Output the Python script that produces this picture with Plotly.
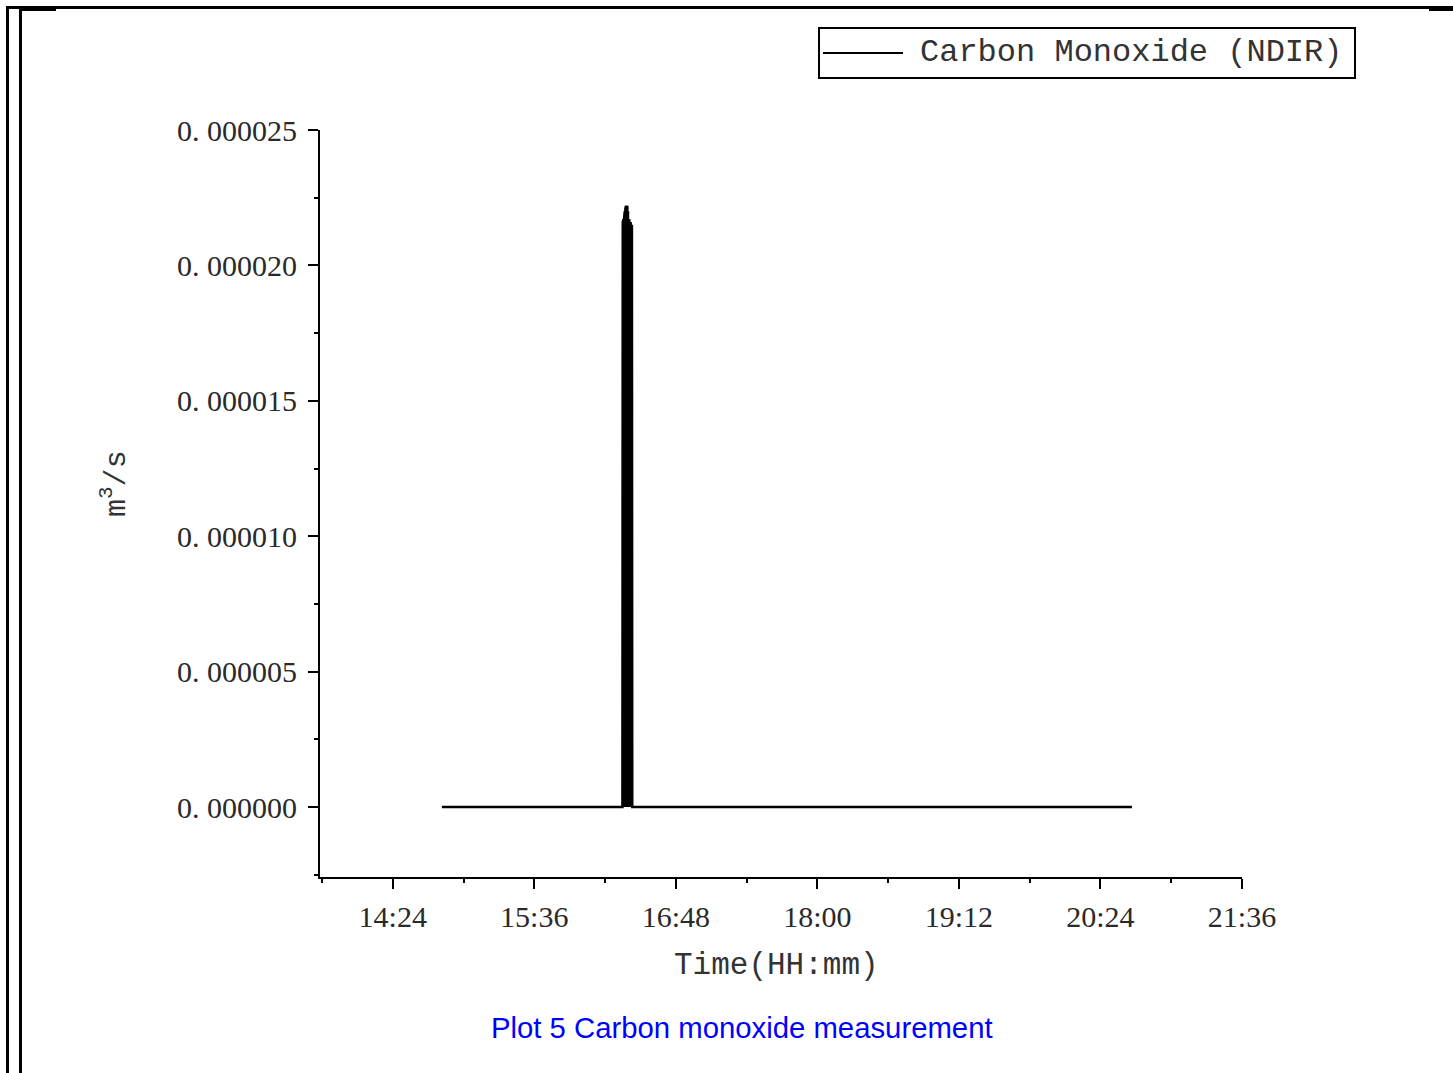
import plotly.graph_objects as go

W, H = 1453, 1073
DAY = "2000-01-01 "

# ---- data ----
times = ["14:49:00",
         "16:20:50", "16:21:00", "16:21:10", "16:21:20", "16:21:30", "16:21:40",
         "16:21:50", "16:22:00", "16:22:10", "16:22:20", "16:22:30", "16:22:40",
         "16:22:50", "16:23:00", "16:23:10", "16:23:20", "16:23:30", "16:23:40",
         "16:23:50", "16:24:00", "16:24:10", "16:24:20", "16:24:30", "16:24:40",
         "16:24:50", "16:25:00", "16:25:10", "16:25:20", "16:25:30", "16:25:40",
         "16:25:50",
         "20:40:00"]
co_flow = [0.0,
           0.0, 21.6e-6, 0.0, 21.7e-6, 0.0, 21.7e-6,
           0.0, 22.0e-6, 0.0, 22.1e-6, 0.0, 22.2e-6,
           0.0, 22.1e-6, 0.0, 22.2e-6, 0.0, 22.0e-6,
           0.0, 21.8e-6, 0.0, 21.7e-6, 0.0, 21.7e-6,
           0.0, 21.6e-6, 0.0, 21.6e-6, 0.0, 21.5e-6,
           0.0,
           0.0]

x_tick_vals = ["14:24", "15:36", "16:48", "18:00", "19:12", "20:24", "21:36"]
x_minor_vals = ["13:48", "15:00", "16:12", "17:24", "18:36", "19:48", "21:00"]
y_tick_vals = [0.0, 5e-6, 10e-6, 15e-6, 20e-6, 25e-6]
y_tick_text = ["0. 000000", "0. 000005", "0. 000010", "0. 000015", "0. 000020", "0. 000025"]
y_minor_vals = [-2.5e-6, 2.5e-6, 7.5e-6, 12.5e-6, 17.5e-6, 22.5e-6]

series_name = "Carbon Monoxide (NDIR)"
x_title = "Time(HH:mm)"
y_title = "m<sup>3</sup>/s"
caption = "Plot 5 Carbon monoxide measurement"

# ---- helpers (pixel -> paper) ----
def px(x):
    return x / W

def py(y):
    return 1 - y / H

fig = go.Figure()
fig.add_trace(go.Scatter(
    x=[DAY + t for t in times], y=co_flow, mode="lines",
    line=dict(color="black", width=2.5), name=series_name, showlegend=False,
))

tick_font = dict(family="Liberation Serif", size=30, color="#2a2a2a")

fig.update_layout(
    template="none",
    width=W, height=H, autosize=False,
    margin=dict(l=0, r=0, t=0, b=0, pad=0, autoexpand=False),
    paper_bgcolor="white", plot_bgcolor="white",
    showlegend=False,
    xaxis=dict(
        type="date", automargin=False,
        domain=[px(320), px(1242)],
        range=[DAY + "13:47:00", DAY + "21:36:00"],
        tickvals=[DAY + t for t in x_tick_vals],
        ticktext=x_tick_vals,
        ticks="outside", ticklen=10, tickwidth=2, tickcolor="black",
        showline=True, linecolor="black", linewidth=2,
        showgrid=False, zeroline=False,
        tickfont=tick_font, ticklabelstandoff=2,
        minor=dict(tickvals=[DAY + t for t in x_minor_vals], ticks="outside",
                   ticklen=4, tickwidth=2, tickcolor="black", showgrid=False),
    ),
    yaxis=dict(
        automargin=False,
        domain=[py(877), py(130)],
        range=[-2.585e-6, 25e-6],
        tickvals=y_tick_vals, ticktext=y_tick_text,
        ticks="outside", ticklen=10, tickwidth=2, tickcolor="black",
        showline=True, linecolor="black", linewidth=2,
        showgrid=False, zeroline=False,
        tickfont=tick_font, ticklabelstandoff=5,
        minor=dict(tickvals=y_minor_vals, ticks="outside",
                   ticklen=4, tickwidth=2, tickcolor="black", showgrid=False),
    ),
)

shapes = []
# outer document frame
for (x0, y0, x1, y1) in [(6, 6, 9, H), (19, 8, 22, H), (6, 6, W, 9), (20, 8, 56, 11), (1429, 8, W, 11)]:
    shapes.append(dict(type="rect", xref="paper", yref="paper",
                       x0=px(x0), x1=px(x1), y0=py(y1), y1=py(y0),
                       fillcolor="black", line=dict(width=0), layer="above"))
# legend box and sample line
shapes.append(dict(type="rect", xref="paper", yref="paper",
                   x0=px(819), x1=px(1355), y0=py(78), y1=py(28),
                   line=dict(color="black", width=2), fillcolor="rgba(0,0,0,0)"))
shapes.append(dict(type="line", xref="paper", yref="paper",
                   x0=px(823), x1=px(903), y0=py(53), y1=py(53),
                   line=dict(color="black", width=2)))
fig.update_layout(shapes=shapes)

annotations = [
    dict(text=series_name, x=px(918), y=py(53), xanchor="left", yanchor="middle",
         font=dict(family="Liberation Mono", size=32, color="#333333")),
    dict(text=x_title, x=px(776), y=py(965), xanchor="center", yanchor="middle",
         font=dict(family="Liberation Mono", size=31, color="#333333")),
    dict(text=y_title, x=px(114), y=py(484), xanchor="center", yanchor="middle",
         textangle=-90, font=dict(family="Liberation Mono", size=30, color="#333333")),
    dict(text=caption, x=px(742), y=py(1027), xanchor="center", yanchor="middle",
         font=dict(family="Liberation Sans", size=29.3, color="#0000FF")),
]
for a in annotations:
    a.update(xref="paper", yref="paper", showarrow=False)
fig.update_layout(annotations=annotations)

fig.write_html("out.html")
